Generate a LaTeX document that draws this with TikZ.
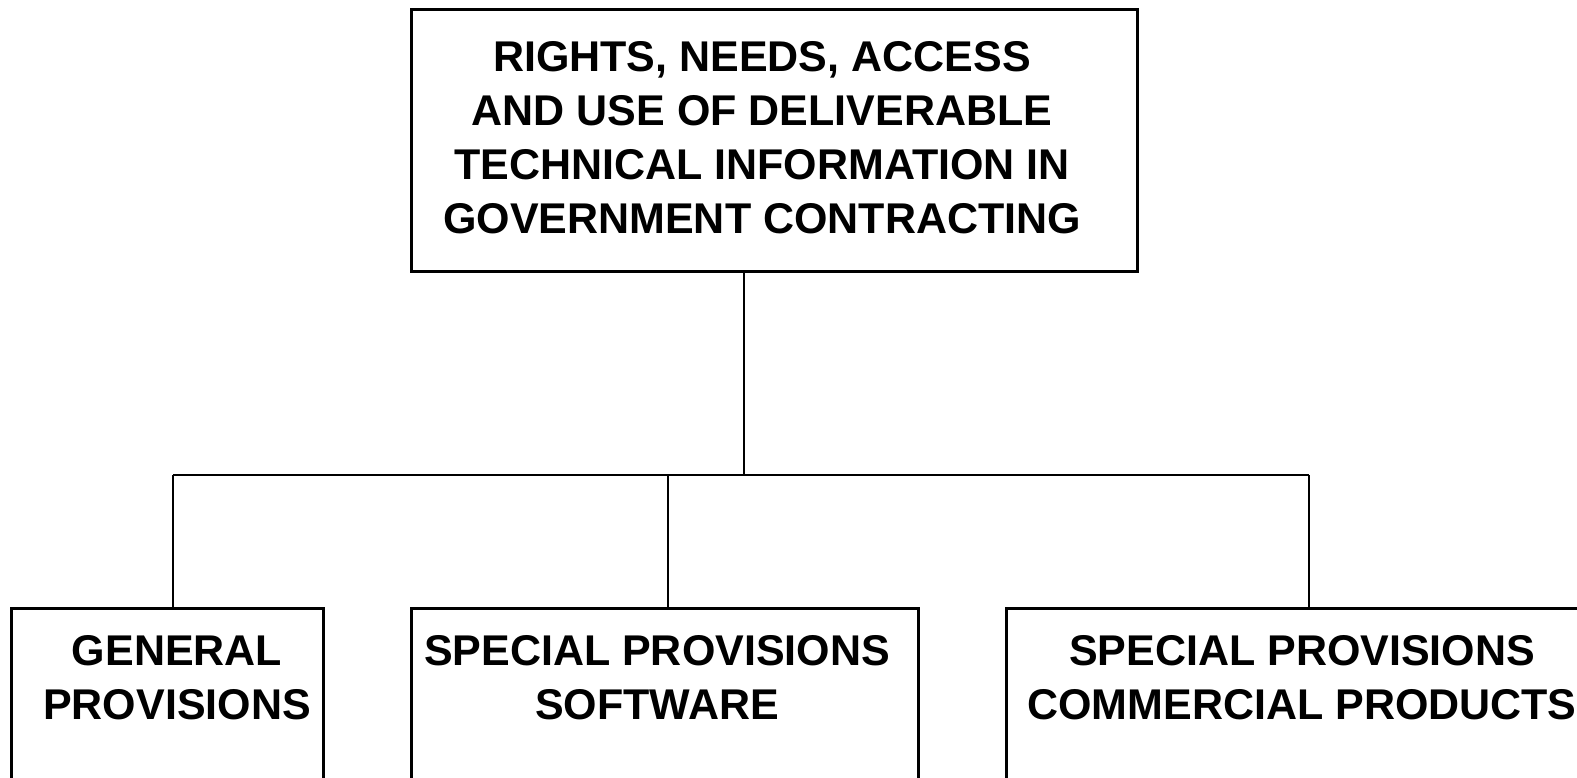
\documentclass[tikz,border=0pt]{standalone}
\usepackage{fontspec}
\setmainfont{Liberation Sans}
\begin{document}
\begin{tikzpicture}[x=1pt,y=-1pt,
  box/.style={draw=black,line width=2.8pt,inner sep=0pt,anchor=north west},
  lbl/.style={inner sep=0pt,anchor=north,align=center,font=\fontsize{43}{54}\selectfont\bfseries},
  conn/.style={draw=black,line width=2.8pt}]
\useasboundingbox (0,0) rectangle (1577,778);
\clip (0,0) rectangle (1577,778);
\fill[white] (0,0) rectangle (1577,778);
% boxes
\node[box,minimum width=726pt,minimum height=262pt] (top) at (410,8) {};
\node[box,minimum width=312pt,minimum height=220pt] (gen) at (10,607) {};
\node[box,minimum width=507pt,minimum height=220pt] (soft) at (410,607) {};
\node[box,minimum width=640pt,minimum height=220pt] (comm) at (1005,607) {};
% labels
\node[lbl] (toptxt) at (762,41) {RIGHTS, NEEDS, ACCESS\\AND USE OF DELIVERABLE\\TECHNICAL INFORMATION IN\\GOVERNMENT CONTRACTING};
\node[lbl] (gentxt) at (177,635) {GENERAL\\PROVISIONS};
\node[lbl] (softtxt) at (657,635) {SPECIAL PROVISIONS\\SOFTWARE};
\node[lbl] (commtxt) at (1302,635) {SPECIAL PROVISIONS\\COMMERCIAL PRODUCTS};
% connectors
\coordinate (stem) at (744,475);
\coordinate (busL) at (173,475);
\coordinate (busM) at (668,475);
\coordinate (busR) at (1309,475);
\draw[conn] (top.south -| stem) -- (stem);
\draw[conn] (busL) -- (busR);
\draw[conn] (busL) -- (busL |- gen.north);
\draw[conn] (busM) -- (busM |- soft.north);
\draw[conn] (busR) -- (busR |- comm.north);
\end{tikzpicture}
\end{document}
